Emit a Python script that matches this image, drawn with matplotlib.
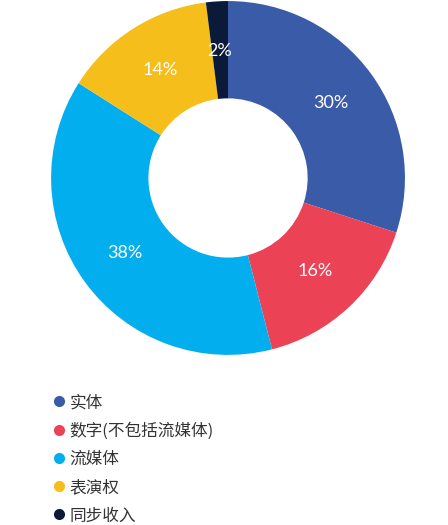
import matplotlib
matplotlib.use("Agg")
import matplotlib.pyplot as plt
from matplotlib.lines import Line2D

plt.rcParams['font.family'] = ['Noto Sans CJK SC', 'DejaVu Sans']

labels = ["实体", "数字(不包括流媒体)", "流媒体", "表演权", "同步收入"]
shares = [30, 16, 38, 14, 2]
colors = ["#3a5ba8", "#ec4256", "#03aeee", "#f6be1a", "#0c1a3a"]

fig = plt.figure(figsize=(4.48, 5.25), dpi=100)
ax = fig.add_axes([0.114, 0.324, 0.79, 0.674])

wedges, texts, autotexts = ax.pie(
    shares, colors=colors, startangle=90, counterclock=False,
    wedgeprops=dict(width=0.55, edgecolor="none"),
    autopct=lambda p: "%d%%" % round(p), pctdistance=0.72,
    textprops=dict(color="white", fontsize=13, family=["Lato", "DejaVu Sans"]))
ax.set_xlim(-1, 1)
ax.set_ylim(-1, 1)
ax.set_aspect("equal")

handles = [Line2D([], [], marker="o", linestyle="none", markersize=8,
                  markerfacecolor=c, markeredgecolor="none") for c in colors]
fig.legend(handles, labels, loc="upper left", bbox_to_anchor=(0.098, 0.262),
           frameon=False, fontsize=12, labelspacing=0.67, handletextpad=0.15,
           handlelength=1.0, labelcolor="#333333", borderaxespad=0)

fig.savefig("out.png", dpi=100)
